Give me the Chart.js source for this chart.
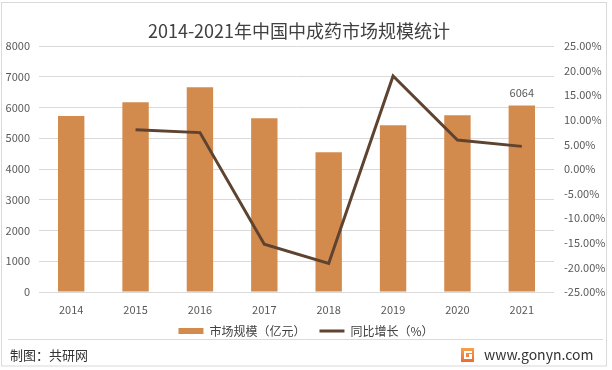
<!DOCTYPE html>
<html>
<head>
<meta charset="utf-8">
<script src="https://cdn.jsdelivr.net/npm/chart.js@4/dist/chart.umd.min.js"></script>
<style>
  html, body { margin: 0; padding: 0; background: #fff; }
  #wrap { width: 612px; height: 370px; position: relative; }
</style>
</head>
<body>
<div id="wrap"><canvas id="chart" width="612" height="370"></canvas></div>
<script>
const years = ['2014', '2015', '2016', '2017', '2018', '2019', '2020', '2021'];
const marketSize = [5720, 6170, 6660, 5650, 4545, 5420, 5750, 6064];
const growthRate = [null, 8.0, 7.4, -15.3, -19.2, 18.9, 5.9, 4.6];
const labelledYear = '2021';

const titleText = '2014-2021年中国中成药市场规模统计';
const sizeLabel = '市场规模（亿元）';
const growthLabel = '同比增长（%）';
const sourceText = '制图：共研网';
const siteText = 'www.gonyn.com';

const barColor = '#D38B4D';
const lineColor = '#5E4330';
const textColor = '#595959';
const gridColor = '#D9D9D9';
const font = '"Noto Sans CJK SC", "Noto Sans", sans-serif';

// title, footer, border and the value label over the last bar
const decorations = {
    id: 'decorations',
    afterDraw(chart) {
        const ctx = chart.ctx;
        ctx.save();

        ctx.strokeStyle = gridColor;
        ctx.lineWidth = 1;
        ctx.strokeRect(1.5, 2.5, 605, 363.5);

        ctx.fillStyle = '#404040';
        ctx.font = '18px ' + font;
        ctx.textAlign = 'center';
        ctx.textBaseline = 'middle';
        ctx.fillText(titleText, 299, 31);

        // value label
        const i = years.indexOf(labelledYear);
        const bar = chart.getDatasetMeta(1).data[i];
        ctx.fillStyle = textColor;
        ctx.font = '11px ' + font;
        ctx.fillText(String(marketSize[i]), bar.x, bar.y - 13);

        // separator
        ctx.beginPath();
        ctx.moveTo(8, 339.5);
        ctx.lineTo(603, 339.5);
        ctx.stroke();

        ctx.fillStyle = '#333';
        ctx.font = '13px ' + font;
        ctx.textAlign = 'left';
        ctx.fillText(sourceText, 10, 355);

        // logo
        const g = ctx.createLinearGradient(0, 348, 0, 362);
        g.addColorStop(0, '#F7A24B');
        g.addColorStop(1, '#EE6B2F');
        ctx.fillStyle = g;
        ctx.fillRect(461, 348, 13, 14);
        ctx.fillStyle = '#fff';
        ctx.fillRect(464, 351, 8, 2);
        ctx.fillRect(464, 351, 2, 8);
        ctx.fillRect(464, 357, 8, 2);
        ctx.fillRect(469, 354, 3, 5);

        ctx.fillStyle = '#333';
        ctx.font = '14px ' + font;
        ctx.fillText(siteText, 484, 355);
        ctx.restore();
    }
};

new Chart(document.getElementById('chart'), {
    data: {
        labels: years,
        datasets: [
            {
                type: 'line',
                label: growthLabel,
                data: growthRate,
                yAxisID: 'y1',
                borderColor: lineColor,
                backgroundColor: lineColor,
                borderWidth: 3,
                pointRadius: 0,
                tension: 0,
                order: 0
            },
            {
                type: 'bar',
                label: sizeLabel,
                data: marketSize,
                yAxisID: 'y',
                backgroundColor: barColor,
                borderWidth: 0,
                barPercentage: 0.41,
                categoryPercentage: 1,
                order: 1
            }
        ]
    },
    options: {
        responsive: false,
        animation: false,
        layout: { padding: { top: 46, bottom: 23, left: 0, right: 0 } },
        plugins: {
            title: { display: false },
            tooltip: { enabled: false },
            legend: {
                position: 'bottom',
                reverse: true,
                labels: {
                    usePointStyle: true,
                    pointStyleWidth: 25,
                    boxWidth: 25,
                    boxHeight: 6,
                    padding: 8,
                    color: '#404040',
                    font: { family: font, size: 12 },
                    generateLabels(chart) {
                        return chart.data.datasets.map((ds, i) => {
                            const isBar = ds.type === 'bar';
                            return {
                                // the ideographic space widens the gap to the next item
                                text: isBar ? ds.label + '\u3000' : ds.label,
                                fillStyle: isBar ? barColor : lineColor,
                                strokeStyle: isBar ? barColor : lineColor,
                                lineWidth: isBar ? 0 : 3,
                                pointStyle: isBar ? 'rect' : 'line',
                                fontColor: '#404040',
                                datasetIndex: i,
                                hidden: false
                            };
                        });
                    }
                }
            }
        },
        scales: {
            x: {
                afterFit(scale) { scale.height = 25; },
                grid: { display: false, drawTicks: false },
                border: { display: false },
                ticks: { color: textColor, padding: 11, font: { family: font, size: 11 } }
            },
            y: {
                position: 'left',
                min: 0,
                max: 8000,
                afterFit(scale) { scale.width = 39; },
                grid: { color: gridColor, drawTicks: false },
                border: { display: false },
                ticks: {
                    stepSize: 1000,
                    color: textColor,
                    padding: 9,
                    font: { family: font, size: 11 },
                    callback: v => String(v)
                }
            },
            y1: {
                position: 'right',
                min: -25,
                max: 25,
                afterFit(scale) { scale.width = 58; },
                grid: { display: false, drawTicks: false },
                border: { display: false },
                ticks: {
                    stepSize: 5,
                    color: textColor,
                    padding: 10,
                    font: { family: font, size: 11 },
                    callback: v => v.toFixed(2) + '%'
                }
            }
        }
    },
    plugins: [decorations]
});
</script>
</body>
</html>
